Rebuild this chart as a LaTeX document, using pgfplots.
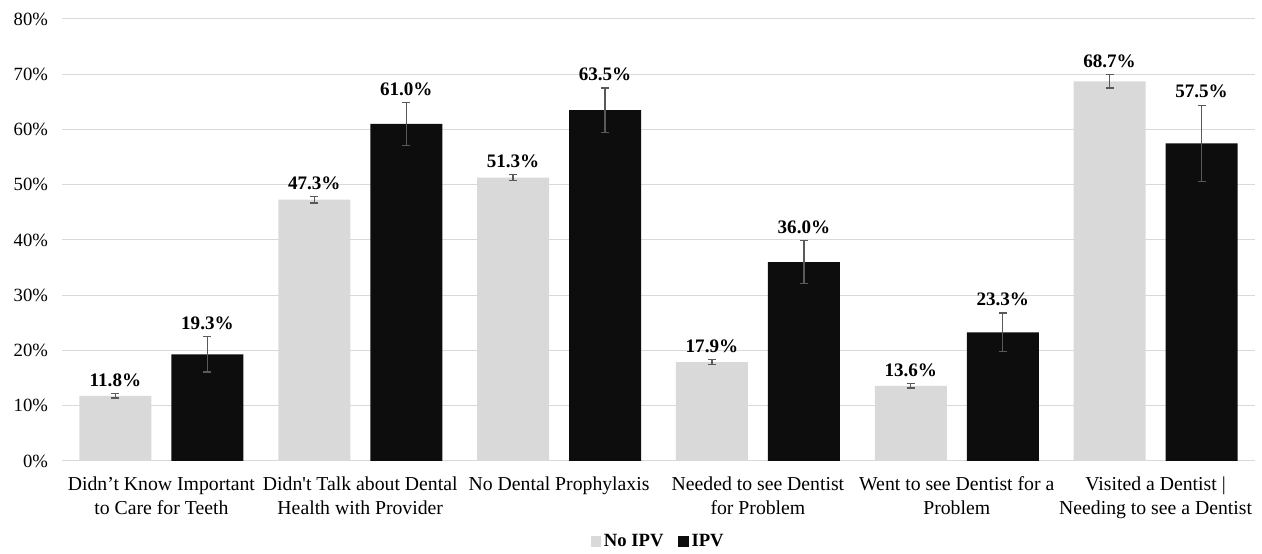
\documentclass[border=0pt]{standalone}
\usepackage{fontspec}
\setmainfont{Liberation Serif}
\usepackage{pgfplots}
\usepackage{pgfplotstable}
\pgfplotsset{compat=1.18}

\definecolor{noipv}{HTML}{D9D9D9}
\definecolor{ipv}{HTML}{0D0D0D}
\definecolor{errgray}{HTML}{595959}
\definecolor{gridgray}{HTML}{D9D9D9}

% value and half-width of the error bar, in percent
\pgfplotstableread{
x val err
0 11.8 0.4
1 47.3 0.6
2 51.3 0.5
3 17.9 0.5
4 13.6 0.4
5 68.7 1.2
}\noipvdata

\pgfplotstableread{
x val err
0 19.3 3.2
1 61.0 3.9
2 63.5 4.0
3 36.0 3.9
4 23.3 3.5
5 57.5 6.9
}\ipvdata

\begin{document}
\begin{tikzpicture}
\begin{axis}[
  scale only axis,
  width=894.75pt, height=331.5pt,
  ymin=0, ymax=80,
  ytick={0,10,...,80},
  yticklabel={\pgfmathprintnumber{\tick}\%},
  /pgf/number format/assume math mode=true,
  xmin=-0.5, xmax=5.5,
  xtick={0,...,5},
  xticklabels={
    {Didn’t Know Important\\to Care for Teeth},
    {Didn\textquotesingle t Talk about Dental\\Health with Provider},
    {No Dental Prophylaxis\\\strut},
    {Needed to see Dentist\\for Problem},
    {Went to see Dentist for a\\Problem},
    {Visited a Dentist |\\Needing to see a Dentist}},
  xticklabel style={align=center, font=\fontsize{14.8}{18}\selectfont,
    anchor=north, yshift=-8pt},
  yticklabel style={font=\fontsize{14}{16}\selectfont, xshift=-7pt},
  major tick length=0pt,
  axis x line*=bottom,
  axis y line*=left,
  y axis line style={draw=none},
  x axis line style={draw=gridgray, line width=0.75pt, -},
  ymajorgrids,
  grid style={draw=gridgray, line width=0.75pt},
  ybar,
  bar width=54pt,
  legend style={at={(0.5,-0.182)}, anchor=center, draw=none,
    legend columns=2, font=\fontsize{14}{16}\selectfont\bfseries,
    /tikz/every even column/.append style={column sep=9pt}},
  legend image code/.code={\fill[#1] (0pt,-4pt) rectangle (8pt,4pt);},
  visualization depends on={\thisrow{err} \as \errval},
  nodes near coords={\pgfmathprintnumber[fixed,fixed zerofill,precision=1]{\pgfplotspointmeta}\%},
  every node near coord/.append style={
    font=\fontsize{14.3}{16}\selectfont\bfseries, text=black,
    shift={(axis direction cs:0,\errval)}, anchor=south, inner sep=2pt, yshift=3pt},
  error bars/y dir=both,
  error bars/y explicit,
  error bars/error bar style={draw=errgray, line width=0.9pt},
  error bars/error mark options={rotate=90, mark size=3pt, draw=errgray, line width=0.9pt},
  after end axis/.code={
    \path (rel axis cs:0,1) ++(-46.5pt,14.25pt);
    \path (rel axis cs:1,0) ++(5.25pt,-66.75pt);
  },
]
\addplot[fill=noipv, draw=none, bar shift=-34.5pt]
  table[x=x, y=val, y error=err] {\noipvdata};
\addlegendentry{No IPV}
\addplot[fill=ipv, draw=none, bar shift=34.5pt]
  table[x=x, y=val, y error=err] {\ipvdata};
\addlegendentry{IPV}
\end{axis}
\end{tikzpicture}
\end{document}
